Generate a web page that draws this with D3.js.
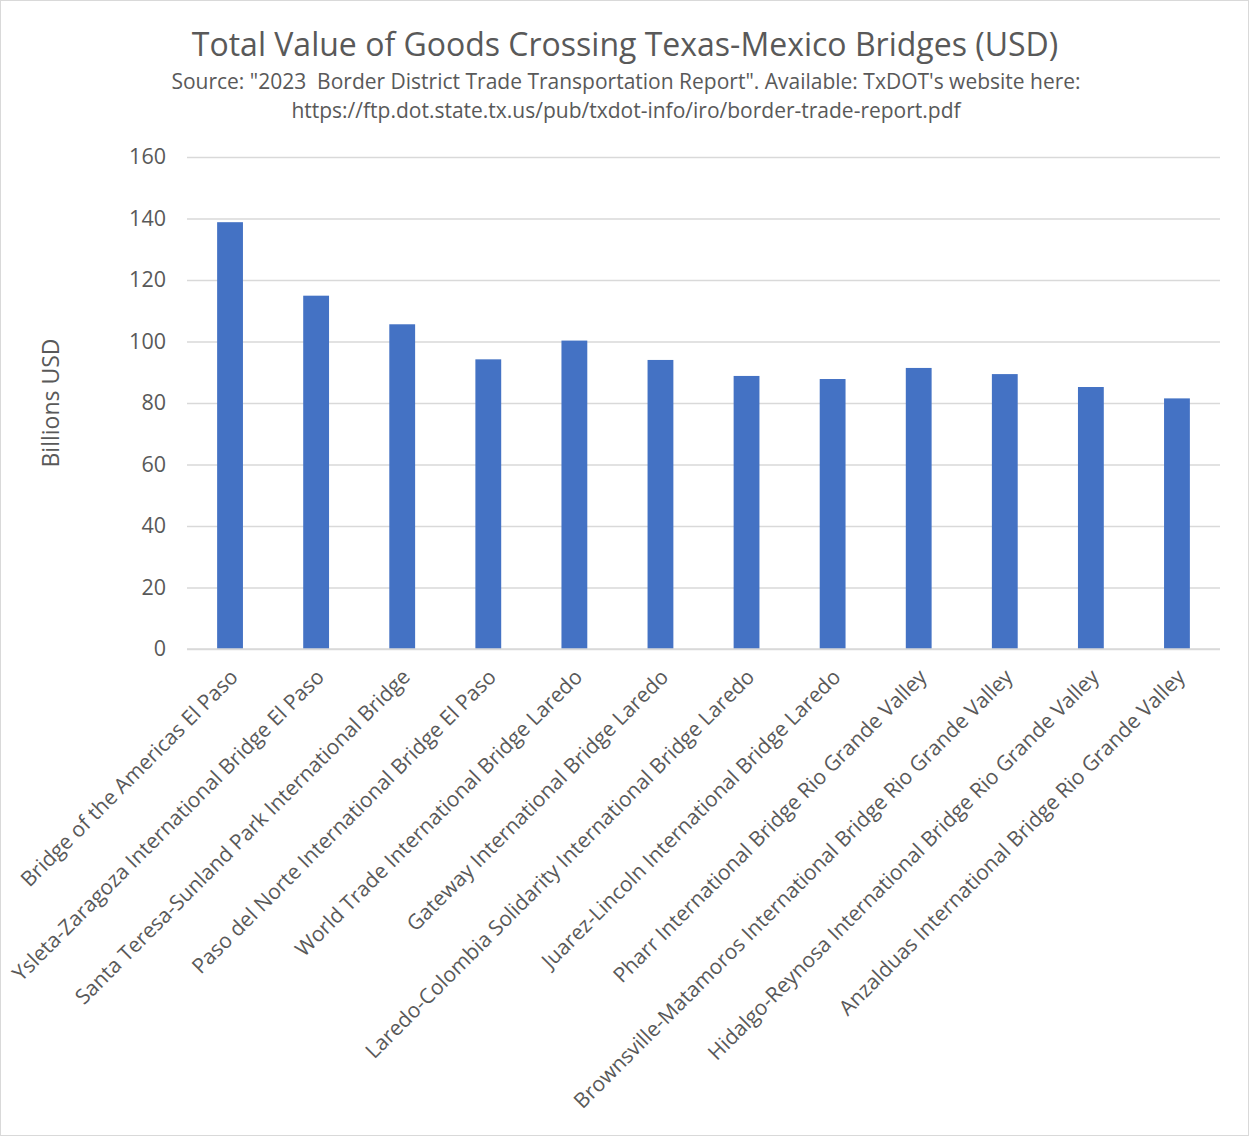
<!DOCTYPE html>
<html>
<head>
<meta charset="utf-8">
<script src="https://cdn.jsdelivr.net/npm/d3@7"></script>
<style>
  body { margin: 0; background: #fff; }
  svg { display: block; }
  text { font-family: "Open Sans", sans-serif; fill: #595959; white-space: pre; }
</style>
</head>
<body>
<div id="chart"></div>
<script>
// bridges and total trade value (billions USD)
var bridges = [
    "Bridge of the Americas El Paso",
    "Ysleta-Zaragoza International Bridge El Paso",
    "Santa Teresa-Sunland Park International Bridge",
    "Paso del Norte International Bridge El Paso",
    "World Trade International Bridge Laredo",
    "Gateway International Bridge Laredo",
    "Laredo-Colombia Solidarity International Bridge Laredo",
    "Juarez-Lincoln International Bridge Laredo",
    "Pharr International Bridge Rio Grande Valley",
    "Brownsville-Matamoros International Bridge Rio Grande Valley",
    "Hidalgo-Reynosa International Bridge Rio Grande Valley",
    "Anzalduas International Bridge Rio Grande Valley"
];
var values = [138.8, 114.9, 105.6, 94.2, 100.3, 94.0, 88.8, 87.8, 91.4, 89.4, 85.2, 81.5];
var yTicks = [0, 20, 40, 60, 80, 100, 120, 140, 160];

var title = "Total Value of Goods Crossing Texas-Mexico Bridges (USD)";
var subtitle = [
    "Source: \"2023  Border District Trade Transportation Report\". Available: TxDOT's website here:",
    "https://ftp.dot.state.tx.us/pub/txdot-info/iro/border-trade-report.pdf"
];

var W = 1249, H = 1136;
var margin = {top: 157, right: 29, bottom: 487, left: 187};
var width = W - margin.left - margin.right,
    height = H - margin.top - margin.bottom;

var svg = d3.select("#chart").append("svg")
    .attr("width", W).attr("height", H);

svg.append("rect")
    .attr("x", 0.5).attr("y", 0.5)
    .attr("width", W - 1).attr("height", H - 1)
    .attr("fill", "#fff").attr("stroke", "#d9d9d9");

svg.append("text")
    .attr("x", 625).attr("y", 56)
    .attr("text-anchor", "middle")
    .style("font-size", "32px")
    .text(title);

svg.selectAll(".sub").data(subtitle).enter().append("text")
    .attr("class", "sub")
    .attr("x", 626)
    .attr("y", function(d, i) { return 89 + i * 29; })
    .attr("text-anchor", "middle")
    .style("font-size", "21px")
    .text(function(d) { return d; });

var g = svg.append("g")
    .attr("transform", "translate(" + margin.left + "," + margin.top + ")");

var x = d3.scaleBand().domain(bridges).range([0, width]).paddingInner(0.7).paddingOuter(0.35);
var y = d3.scaleLinear().domain([0, 160]).range([height, 0]);

// gridlines + y labels
var yAxis = g.append("g")
    .call(d3.axisLeft(y).tickValues(yTicks).tickSize(-width).tickPadding(21));
yAxis.select(".domain").remove();
yAxis.selectAll(".tick line").attr("stroke", "#d9d9d9").attr("stroke-width", 1.3);
yAxis.selectAll(".tick text")
    .style("font-size", "21.5px")
    .style("fill", "#595959")
    .style("font-family", "'Open Sans', sans-serif");

g.selectAll(".bar").data(values).enter().append("rect")
    .attr("class", "bar")
    .attr("x", function(d, i) { return x(bridges[i]); })
    .attr("y", function(d) { return y(d); })
    .attr("width", x.bandwidth())
    .attr("height", function(d) { return height - y(d); })
    .attr("fill", "#4472c4");

// bottom axis line
g.append("line")
    .attr("x1", 0).attr("x2", width)
    .attr("y1", height).attr("y2", height)
    .attr("stroke", "#d9d9d9").attr("stroke-width", 1.3);

// rotated category labels
g.selectAll(".xlab").data(bridges).enter().append("text")
    .attr("class", "xlab")
    .attr("transform", function(d) {
        return "translate(" + (x(d) + x.bandwidth() / 2 + 4) + "," + (height + 24) + ") rotate(-45)";
    })
    .attr("text-anchor", "end")
    .attr("dy", "0.35em")
    .style("font-size", "21px")
    .text(function(d) { return d; });

svg.append("text")
    .attr("transform", "translate(59," + (margin.top + height / 2) + ") rotate(-90)")
    .attr("text-anchor", "middle")
    .style("font-size", "23px")
    .text("Billions USD");
</script>
</body>
</html>
